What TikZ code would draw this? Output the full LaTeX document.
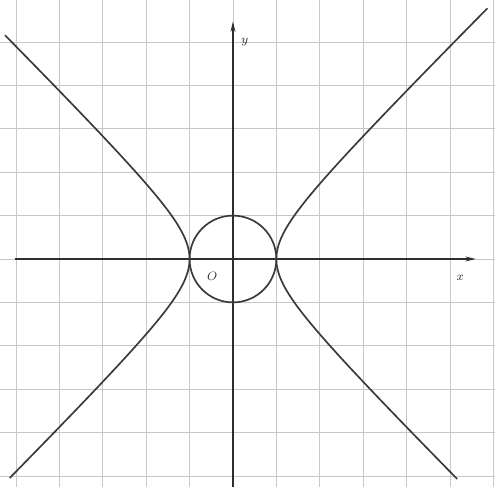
\documentclass[tikz,border=0pt]{standalone}
\usepackage{amsmath,amssymb}
\usepackage{tikz}
\usetikzlibrary{positioning,arrows.meta,calc}
\definecolor{hbGrid}{HTML}{C8C8C8}
\definecolor{hbCurve}{HTML}{3A3A3A}
\definecolor{hbAxis}{HTML}{2E2E2E}

\begin{document}
\begin{tikzpicture}[
      gridline/.style={draw=hbGrid, line width=.5pt},
      axisline/.style={draw=hbAxis, line width=.8pt, -{Stealth[length=7pt,width=3.2pt]}},
      curveline/.style={draw=hbCurve, line width=1.1pt, smooth, samples=120},
      axlab/.style={font=\footnotesize, text=hbAxis, inner sep=1pt}
    ]
      \useasboundingbox (-5.37,-5.25) rectangle (6.04,5.97);

      % grid
      \draw[gridline] (-5.37,-5.25) grid (6.04,5.97);

      % axes
      \coordinate (xs) at (-5.02,0);
      \coordinate (xe) at (5.6,0);
      \coordinate (ys) at (0,-5.25);
      \coordinate (ye) at (0,5.48);
      \draw[axisline] (xs) -- (xe);
      \draw[axisline] (ys) -- (ye);

      \node[axlab] (xlab) at (5.24,-0.44) {$x$};
      \node[axlab] (ylab) at (0.27,5.0) {$y$};
      \node[axlab] (orig) at (-0.48,-0.39) {$O$};

      % unit circle
      \draw[curveline] (0,0) circle (1);

      % hyperbola x^2-y^2=1
      \draw[curveline, domain=-5.05:5.16] plot ({-sqrt(1+\x*\x)},\x);
      \draw[curveline, domain=-5.07:5.78] plot ({sqrt(1+\x*\x)},\x);
    \end{tikzpicture}
\end{document}
